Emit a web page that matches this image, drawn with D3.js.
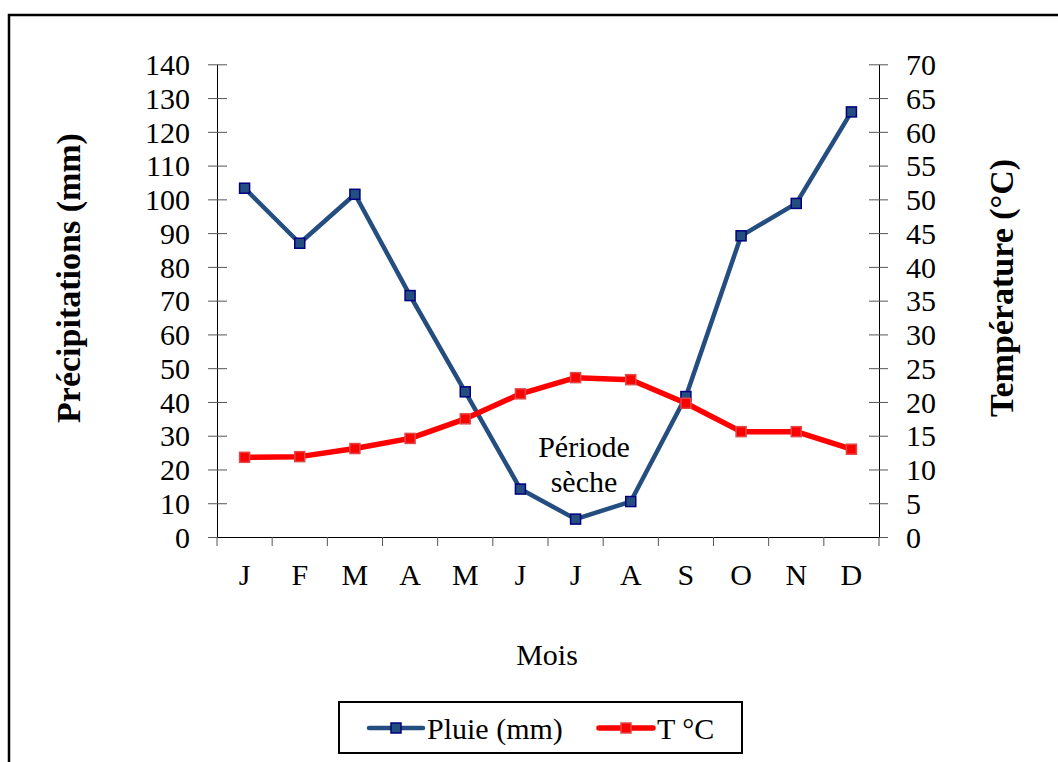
<!DOCTYPE html>
<html><head><meta charset="utf-8">
<script src="https://cdn.jsdelivr.net/npm/d3@7"></script>
<style>body{margin:0;background:#fff}svg{display:block}</style>
</head><body><svg id="c" width="1058" height="762"></svg>
<script>
const months = ["J","F","M","A","M","J","J","A","S","O","N","D"];
const pluie = [103.3, 87.0, 101.5, 71.5, 43.0, 14.2, 5.3, 10.5, 41.6, 89.2, 98.8, 125.9];
const temp = [11.8, 11.9, 13.1, 14.6, 17.5, 21.2, 23.6, 23.3, 19.8, 15.6, 15.6, 13.0];
const leftTicks = d3.range(0, 141, 10);
const rightTicks = d3.range(0, 71, 5);

const FONT = "'Liberation Serif', 'Times New Roman', Tinos, 'DejaVu Serif', serif";
const svg = d3.select("#c");
const L = 217, R = 879, T = 64.3, B = 537;
const idx = months.map((m,i)=>i);
const x = d3.scaleBand().domain(idx).range([L, R]).padding(0);
const xc = i => x(i) + x.bandwidth()/2;
const yL = d3.scaleLinear().domain([0,140]).range([B, T]);
const yR = d3.scaleLinear().domain([0,70]).range([B, T]);

svg.append("rect").attr("x",9).attr("y",15).attr("width",1100).attr("height",800)
  .attr("fill","none").attr("stroke","#000").attr("stroke-width",2.5);

const gL = svg.append("g").attr("transform",`translate(${L},0)`)
  .call(d3.axisLeft(yL).tickValues(leftTicks).tickSize(9).tickPadding(18).tickSizeOuter(0));
gL.attr("font-family",null).attr("font-size",null);
gL.select(".domain").attr("stroke","#000");
gL.selectAll(".tick line").attr("x1",10).attr("x2",-9).attr("stroke","#555");
gL.selectAll(".tick text").attr("font-family",FONT).attr("font-size",30).attr("dy","0.34em");

const gR = svg.append("g").attr("transform",`translate(${R},0)`)
  .call(d3.axisRight(yR).tickValues(rightTicks).tickSize(9).tickPadding(18).tickSizeOuter(0));
gR.attr("font-family",null).attr("font-size",null);
gR.select(".domain").attr("stroke","#000");
gR.selectAll(".tick line").attr("x1",-10).attr("x2",9).attr("stroke","#555");
gR.selectAll(".tick text").attr("font-family",FONT).attr("font-size",30).attr("dy","0.34em");

const gB = svg.append("g").attr("transform",`translate(0,${B})`)
  .call(d3.axisBottom(x).tickFormat(i=>months[i]).tickSize(0).tickPadding(27).tickSizeOuter(0));
gB.attr("font-family",null).attr("font-size",null);
gB.select(".domain").attr("stroke","#000");
gB.selectAll(".tick text").attr("font-family",FONT).attr("font-size",30);
gB.selectAll("line.bt").data(d3.range(0, months.length+1)).enter().append("line")
  .attr("class","bt")
  .attr("x1",d=> d < months.length ? x(d) : R).attr("x2",d=> d < months.length ? x(d) : R)
  .attr("y1",0).attr("y2",9).attr("stroke","#555");

svg.append("text").attr("transform","translate(80,278) rotate(-90)").attr("text-anchor","middle")
  .attr("font-family",FONT).attr("font-size",34).attr("font-weight","bold").text("Précipitations (mm)");
svg.append("text").attr("transform","translate(1013,288) rotate(-90)").attr("text-anchor","middle")
  .attr("font-family",FONT).attr("font-size",34).attr("font-weight","bold").text("Température (°C)");
svg.append("text").attr("x",547).attr("y",665).attr("text-anchor","middle").attr("font-family",FONT).attr("font-size",30).text("Mois");

const blue = "#254E80", red = "#FF0000";
const lineP = d3.line().x((d,i)=>xc(i)).y(d=>yL(d));
const lineT = d3.line().x((d,i)=>xc(i)).y(d=>yR(d));
svg.append("path").datum(pluie).attr("d",lineP).attr("fill","none").attr("stroke",blue).attr("stroke-width",4.5).attr("stroke-linejoin","round");
svg.append("path").datum(temp).attr("d",lineT).attr("fill","none").attr("stroke",red).attr("stroke-width",5.5).attr("stroke-linejoin","round");
const ms = 10;
svg.selectAll("rect.mp").data(pluie).enter().append("rect").attr("class","mp")
  .attr("x",(d,i)=>xc(i)-ms/2).attr("y",d=>yL(d)-ms/2).attr("width",ms).attr("height",ms)
  .attr("fill",blue).attr("stroke","#000080").attr("stroke-width",1.5);
svg.selectAll("rect.mt").data(temp).enter().append("rect").attr("class","mt")
  .attr("x",(d,i)=>xc(i)-ms/2).attr("y",d=>yR(d)-ms/2).attr("width",ms).attr("height",ms)
  .attr("fill",red).attr("stroke","#E04848").attr("stroke-width",1.5);

svg.append("text").attr("x",584).attr("y",457).attr("text-anchor","middle").attr("font-family",FONT).attr("font-size",30).text("Période");
svg.append("text").attr("x",584).attr("y",492).attr("text-anchor","middle").attr("font-family",FONT).attr("font-size",30).text("sèche");

const lg = svg.append("g");
lg.append("rect").attr("x",339).attr("y",702).attr("width",403).attr("height",51).attr("fill","#fff").attr("stroke","#000").attr("stroke-width",2);
const legItems = [{name:"Pluie (mm)", c:blue, s:"#000080", w:4.5, x0:369},{name:"T °C", c:red, s:"#E04848", w:5.5, x0:599}];
legItems.forEach(it=>{
  lg.append("line").attr("x1",it.x0).attr("x2",it.x0+54).attr("y1",728).attr("y2",728).attr("stroke",it.c).attr("stroke-width",it.w).attr("stroke-linecap","round");
  lg.append("rect").attr("x",it.x0+27-ms/2).attr("y",728-ms/2).attr("width",ms).attr("height",ms).attr("fill",it.c).attr("stroke",it.s).attr("stroke-width",1.5);
  lg.append("text").attr("x",it.x0+58).attr("y",739).attr("font-family",FONT).attr("font-size",30).text(it.name);
});
</script></body></html>
